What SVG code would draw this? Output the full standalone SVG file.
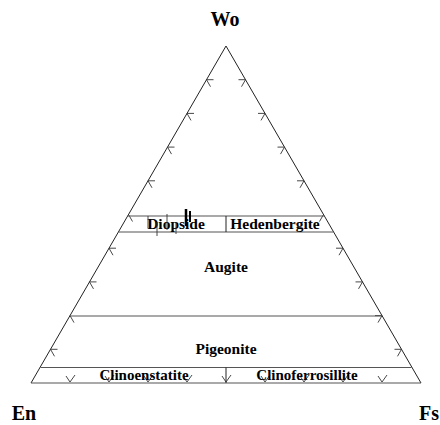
<svg xmlns="http://www.w3.org/2000/svg" width="440" height="425" viewBox="0 0 440 425">
<style>
.edge{fill:none;stroke:#222;stroke-width:1}
.band{fill:none;stroke:#555;stroke-width:1.2}
.tick{fill:none;stroke:#333;stroke-width:0.9}
.lbl{font-family:"Liberation Serif","Times New Roman",serif;font-weight:bold;fill:#000;text-anchor:middle}
.corner{font-size:20px}
.field{font-size:15.5px}
</style>
<rect width="440" height="425" fill="#fff"/>
<g id="connectors">
  <path class="edge" d="M31,383 L226,46 L421,383"/>
  <path class="tick" d="M206.5,79.7 h7 M206.5,79.7 l4,7
    M187,113.4 h7 M187,113.4 l4,7
    M167.5,147.1 h7 M167.5,147.1 l4,7
    M148,180.8 h7 M148,180.8 l4,7
    M128.5,214.5 l4,7
    M109,248.2 h7 M109,248.2 l4,7
    M89.5,281.9 h7 M89.5,281.9 l4,7
    M70,315.6 l4,7
    M50.5,349.3 h7 M50.5,349.3 l4,7"/>
  <path class="tick" d="M245.5,79.7 h-7 M245.5,79.7 l-4,7
    M265,113.4 h-7 M265,113.4 l-4,7
    M284.5,147.1 h-7 M284.5,147.1 l-4,7
    M304,180.8 h-7 M304,180.8 l-4,7
    M323.5,214.5 l-4,7
    M343,248.2 h-7 M343,248.2 l-4,7
    M362.5,281.9 h-7 M362.5,281.9 l-4,7
    M382,315.6 h-7 M382,315.6 l-4,7
    M401.5,349.3 h-7 M401.5,349.3 l-4,7"/>
  <path class="tick" d="M70,382 l-4,-6 M70,382 l5,-7
    M109,382 l-4,-6 M109,382 l5,-7
    M148,382 l-4,-6 M148,382 l5,-7
    M187,382 l-4,-6 M187,382 l5,-7
    M226,382 l-4,-6 M226,382 l5,-7
    M265,382 l-4,-6 M265,382 l5,-7
    M304,382 l-4,-6 M304,382 l5,-7
    M343,382 l-4,-6 M343,382 l5,-7
    M382,382 l-4,-6 M382,382 l5,-7"/>
</g>
<g id="diopside-band">
  <path class="band" d="M127.5,216 H324.5 M118.4,232 H333.6"/>
  <path class="edge" d="M226,216 V232"/>
  <text class="lbl field" x="176" y="229">Diopside</text>
  <text class="lbl field" x="275" y="229">Hedenbergite</text>
  <path class="tick" d="M148,216 V228 M157,222 V236 M167,214 V230 M176,222 V234"/>
  <path d="M186,209 V226" stroke="#000" stroke-width="2.5"/>
  <path d="M190,211 V222" stroke="#000" stroke-width="2"/>
</g>
<g id="augite">
  <text class="lbl field" x="226" y="272">Augite</text>
</g>
<g id="pigeonite">
  <path class="band" d="M70,316 H382"/>
  <text class="lbl field" x="226" y="354">Pigeonite</text>
</g>
<g id="clino-band">
  <path class="band" d="M40.5,367.5 H411.5 M31,383 H421"/>
  <path class="edge" d="M226,367.5 V383"/>
  <text class="lbl" font-size="15" x="144" y="380">Clinoenstatite</text>
  <text class="lbl" font-size="15" x="307" y="380">Clinoferrosillite</text>
</g>
<g id="Wo"><text class="lbl corner" x="225" y="26">Wo</text></g>
<g id="En"><text class="lbl corner" x="24" y="420">En</text></g>
<g id="Fs"><text class="lbl corner" x="429" y="420">Fs</text></g>
</svg>
